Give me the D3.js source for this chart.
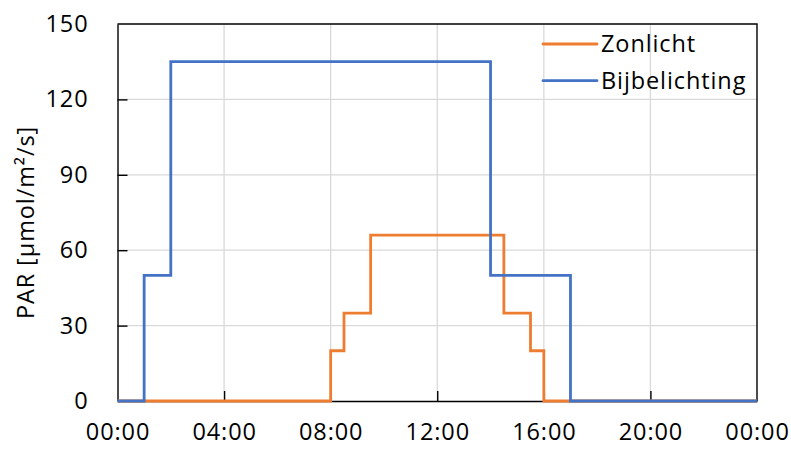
<!DOCTYPE html>
<html>
<head>
<meta charset="utf-8">
<script src="https://cdn.jsdelivr.net/npm/d3@7"></script>
<style>
  html, body { margin: 0; padding: 0; background: #fff; }
  svg { display: block; }
  text { font-family: "Open Sans", Lato, sans-serif; fill: #000; letter-spacing: 0.9px; }
</style>
</head>
<body>
<svg id="chart" width="791" height="453"></svg>
<script>
// Step profiles: each value holds from its hour until the next hour
const sunHours   = [0, 8, 8.5, 9.5, 14.5, 15.5, 16, 24];
const sunValues  = [0, 20, 35, 66, 35, 20, 0, 0];
const lampHours  = [0, 1, 2, 14, 17, 24];
const lampValues = [0, 50, 135, 50, 0, 0];

const seriesNames = ["Zonlicht", "Bijbelichting"];
const seriesColors = ["#ED7D31", "#4472C4"];

const yTicks = [0, 30, 60, 90, 120, 150];
const xTicks = [0, 4, 8, 12, 16, 20, 24];
const xTickLabels = ["00:00", "04:00", "08:00", "12:00", "16:00", "20:00", "00:00"];
const yTitle = "PAR [µmol/m²/s]";

const FONT = "'Open Sans', Lato, sans-serif";
const FONT_SIZE = "23.5px";

const svg = d3.select("#chart");
const margin = { left: 117.5, right: 34, top: 24, bottom: 52 };
const W = 791, H = 453;
const x = d3.scaleLinear().domain([0, 24]).range([margin.left, W - margin.right]);
const y = d3.scaleLinear().domain([0, 150]).range([H - margin.bottom, margin.top]);

// Gridlines
const grid = svg.append("g");
grid.selectAll("line.h").data(yTicks.slice(1, -1)).join("line")
  .attr("x1", x(0)).attr("x2", x(24))
  .attr("y1", d => y(d)).attr("y2", d => y(d))
  .attr("stroke", "#d9d9d9").attr("stroke-width", 1.3);
grid.selectAll("line.v").data(xTicks.slice(1, -1)).join("line")
  .attr("y1", y(0)).attr("y2", y(150))
  .attr("x1", d => x(d)).attr("x2", d => x(d))
  .attr("stroke", "#d9d9d9").attr("stroke-width", 1.3);

// Axes with inward ticks
const yAxis = svg.append("g").attr("transform", `translate(${x(0)},0)`)
  .call(d3.axisLeft(y).tickValues(yTicks).tickSizeInner(-10).tickSizeOuter(0).tickPadding(29));
const xAxis = svg.append("g").attr("transform", `translate(0,${y(0)})`)
  .call(d3.axisBottom(x).tickValues(xTicks).tickFormat((d, i) => xTickLabels[i])
    .tickSizeInner(-10).tickSizeOuter(0).tickPadding(22));
[yAxis, xAxis].forEach(a => {
  a.selectAll("path, line").attr("stroke", "#000").attr("stroke-width", 1.4);
  a.selectAll("text").style("font-family", FONT)
    .style("font-size", FONT_SIZE).attr("fill", "#000");
});
yAxis.selectAll(".tick line").filter(d => d === 0 || d === 150).remove();
xAxis.selectAll(".tick line").filter(d => d === 0 || d === 24).remove();

// Top and right border of the plot area
svg.append("path")
  .attr("d", `M${x(0)},${y(150)}H${x(24)}V${y(0)}`)
  .attr("fill", "none").attr("stroke", "#000").attr("stroke-width", 1.4);

// Series lines
const line = d3.line().x(d => x(d[0])).y(d => y(d[1])).curve(d3.curveStepAfter);
const sunData = sunHours.map((h, i) => [h, sunValues[i]]);
const lampData = lampHours.map((h, i) => [h, lampValues[i]]);
[sunData, lampData].forEach((data, i) => {
  svg.append("path").datum(data)
    .attr("d", line)
    .attr("fill", "none")
    .attr("stroke", seriesColors[i])
    .attr("stroke-width", 2.8)
    .attr("stroke-linejoin", "miter");
});

// Legend
const legend = svg.append("g");
seriesNames.forEach((name, i) => {
  const ly = 44 + i * 36.7;
  legend.append("rect").attr("x", 543).attr("y", ly - 1.5).attr("width", 54).attr("height", 3)
    .attr("fill", "#fff");
  legend.append("line").attr("x1", 543).attr("x2", 597).attr("y1", ly).attr("y2", ly)
    .attr("stroke", seriesColors[i]).attr("stroke-width", 2.8).attr("stroke-linecap", "round");
  legend.append("text").attr("x", 601).attr("y", ly).attr("dy", "0.36em")
    .style("font-family", FONT).style("font-size", FONT_SIZE).text(name);
});

// Y axis title
svg.append("text")
  .attr("transform", `translate(26,${(y(0) + y(150)) / 2 + 10}) rotate(-90)`)
  .attr("text-anchor", "middle").attr("dy", "0.36em")
  .style("font-family", FONT).style("font-size", FONT_SIZE)
  .text(yTitle);
</script>
</body>
</html>
